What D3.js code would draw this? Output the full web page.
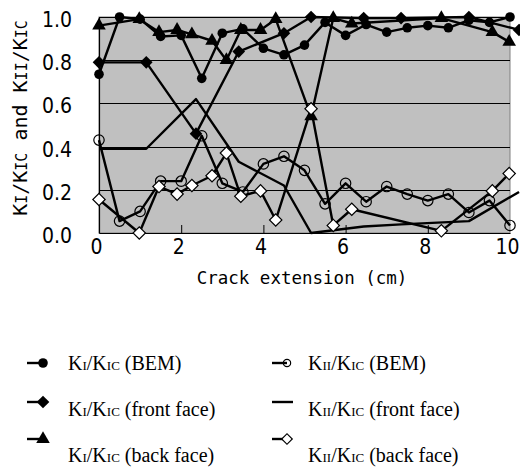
<!DOCTYPE html>
<html>
<head>
<meta charset="utf-8">
<script src="https://cdn.jsdelivr.net/npm/d3@7"></script>
<style>
  body { margin: 0; background: #fff; }
  svg { display: block; }
</style>
</head>
<body>
<div id="chart"></div>
<script>
// x positions of the three data sets (cm)
const bemX = [0, 0.5, 1, 1.5, 2, 2.5, 3, 3.5, 4, 4.5, 5, 5.5, 6, 6.5, 7, 7.5, 8, 8.5, 9, 9.5, 10];
const frontX = [0, 1.15, 2.36, 3.4, 4.5, 5.16, 6.44, 7.35, 9.0, 10.22];
const backX = [0, 0.98, 1.46, 1.9, 2.26, 2.75, 3.1, 3.45, 3.93, 4.3, 5.16, 5.7, 6.15, 8.33, 9.57, 9.98];

// series values
const kiBem = [0.735, 1.0, 0.99, 0.91, 0.915, 0.716, 0.925, 0.945, 0.855, 0.825, 0.87, 0.975, 0.915, 0.965, 0.93, 0.95, 0.96, 0.95, 0.985, 0.975, 1.0];
const kiiBem = [0.43, 0.055, 0.10, 0.24, 0.24, 0.45, 0.23, 0.19, 0.32, 0.355, 0.29, 0.135, 0.23, 0.145, 0.215, 0.18, 0.15, 0.18, 0.095, 0.15, 0.035];
const kiFront = [0.79, 0.79, 0.46, 0.84, 0.925, 1.0, 0.995, 0.995, 1.0, 0.94];
const kiiFront = [0.39, 0.39, 0.62, 0.33, 0.22, 0.0, 0.03, 0.04, 0.055, 0.19];
const kiBack = [0.96, 0.99, 0.93, 0.94, 0.92, 0.89, 0.80, 0.94, 0.94, 0.99, 0.54, 0.995, 0.97, 0.995, 0.93, 0.885];
const kiiBack = [0.155, 0.0, 0.215, 0.18, 0.22, 0.265, 0.37, 0.17, 0.195, 0.06, 0.575, 0.035, 0.11, 0.01, 0.195, 0.275];

const xTicks = [0, 2, 4, 6, 8, 10];
const yTicks = [0, 0.2, 0.4, 0.6, 0.8, 1.0];

const W = 520, H = 470;
const margin = { left: 99, right: 10, top: 17, bottom: 237 };

const svg = d3.select('#chart').append('svg')
  .attr('width', W)
  .attr('height', H);

const x = d3.scaleLinear().domain([0, 10]).range([margin.left, W - margin.right]);
const y = d3.scaleLinear().domain([0, 1]).range([H - margin.bottom, margin.top]);

// plot area
svg.append('rect')
  .attr('x', x(0)).attr('y', y(1))
  .attr('width', x(10) - x(0)).attr('height', y(0) - y(1))
  .attr('fill', '#c0c0c0')
  .attr('stroke', '#808080')
  .attr('stroke-width', 1);

// gridlines
svg.append('g')
  .selectAll('line')
  .data(yTicks.filter(d => d > 0))
  .join('line')
  .attr('x1', x(0)).attr('x2', x(10))
  .attr('y1', d => Math.round(y(d)) + 0.5).attr('y2', d => Math.round(y(d)) + 0.5)
  .attr('stroke', '#000').attr('stroke-width', 1);

// axes
const xAxis = svg.append('g')
  .attr('transform', `translate(0, ${y(0)})`)
  .call(d3.axisBottom(x).tickValues(xTicks).tickSizeInner(-8).tickSizeOuter(0).tickPadding(6).tickFormat(d3.format('d')));
xAxis.select('.domain').attr('stroke', '#000').attr('stroke-width', 1.2);
xAxis.selectAll('.tick line').attr('stroke', '#000');
xAxis.selectAll('.tick').filter(d => d === 0 || d === 10).select('line').remove();
xAxis.selectAll('.tick text')
  .attr('font-family', '"Liberation Sans Narrow", "DejaVu Sans Condensed", sans-serif')
  .attr('font-size', 21)
  .attr('fill', '#000')
  .attr('dx', -3);

const yAxis = svg.append('g')
  .attr('transform', `translate(${x(0)}, 0)`)
  .call(d3.axisLeft(y).tickValues(yTicks).tickSize(0).tickPadding(27).tickFormat(d3.format('.1f')));
yAxis.select('.domain').attr('stroke', '#000').attr('stroke-width', 1.2);
yAxis.selectAll('.tick text')
  .attr('font-family', '"Liberation Sans Narrow", "DejaVu Sans Condensed", sans-serif')
  .attr('font-size', 21)
  .attr('fill', '#000')
  .attr('dy', '0.45em');

// axis titles
svg.append('text')
  .attr('x', 302).attr('y', 284)
  .attr('text-anchor', 'middle')
  .attr('font-family', '"DejaVu Sans Mono", monospace')
  .attr('font-size', 17.5)
  .text('Crack extension (cm)');

const yTitle = svg.append('text')
  .attr('transform', 'translate(27, 118) rotate(-90)')
  .attr('text-anchor', 'middle')
  .attr('font-family', '"DejaVu Sans Mono", monospace')
  .attr('font-size', 20);
[['K', 20], ['I', 15], ['/K', 20], ['IC', 15], [' and K', 20], ['II', 15], ['/K', 20], ['IC', 15]]
  .forEach(([t, s]) => yTitle.append('tspan').attr('font-size', s).text(t));

// series
const line = d3.line().x(d => x(d[0])).y(d => y(d[1]));

const series = [
  { xs: bemX, ys: kiBem, marker: 'circle' },
  { xs: bemX, ys: kiiBem, marker: 'ocircle' },
  { xs: frontX, ys: kiFront, marker: 'diamond' },
  { xs: frontX, ys: kiiFront, marker: 'none' },
  { xs: backX, ys: kiBack, marker: 'triangle' },
  { xs: backX, ys: kiiBack, marker: 'odiamond' }
];

function drawMarker(g, type, cx, cy, scale = 1) {
  if (type === 'circle') {
    g.append('circle').attr('cx', cx).attr('cy', cy).attr('r', 4.8 * scale).attr('fill', '#000');
  } else if (type === 'ocircle') {
    g.append('circle').attr('cx', cx).attr('cy', cy).attr('r', 5.2 * scale)
      .attr('fill', 'none').attr('stroke', '#000').attr('stroke-width', 1.2);
  } else if (type === 'diamond') {
    g.append('path').attr('d', d3.symbol().type(d3.symbolSquare).size(80 * scale * scale)())
      .attr('transform', `translate(${cx}, ${cy}) rotate(45)`).attr('fill', '#000');
  } else if (type === 'odiamond') {
    g.append('path').attr('d', d3.symbol().type(d3.symbolSquare).size(76 * scale * scale)())
      .attr('transform', `translate(${cx}, ${cy}) rotate(45)`)
      .attr('fill', '#fff').attr('stroke', '#000').attr('stroke-width', 1.2);
  } else if (type === 'triangle') {
    g.append('path').attr('d', d3.symbol().type(d3.symbolTriangle).size(80 * scale * scale)())
      .attr('transform', `translate(${cx}, ${cy})`).attr('fill', '#000');
  }
}

series.forEach(s => {
  const pts = s.xs.map((v, i) => [v, s.ys[i]]);
  const g = svg.append('g');
  g.append('path')
    .datum(pts)
    .attr('d', line)
    .attr('fill', 'none')
    .attr('stroke', '#000')
    .attr('stroke-width', 2.4)
    .attr('stroke-linejoin', 'round');
  pts.forEach(p => drawMarker(g, s.marker, x(p[0]), y(p[1])));
});

// legend
const legendItems = [
  { marker: 'circle', label: 'BEM', sub: 'I', col: 0, row: 0 },
  { marker: 'ocircle', label: 'BEM', sub: 'II', col: 1, row: 0 },
  { marker: 'diamond', label: 'front face', sub: 'I', col: 0, row: 1 },
  { marker: 'none', label: 'front face', sub: 'II', col: 1, row: 1 },
  { marker: 'triangle', label: 'back face', sub: 'I', col: 0, row: 2 },
  { marker: 'odiamond', label: 'back face', sub: 'II', col: 1, row: 2 }
];
const rowMarkerY = [363, 402, 439];
const rowTextY = [370, 416, 462];
const colX = [27, 272];
const colTextX = [68, 308];

const legend = svg.append('g');
legendItems.forEach(d => {
  const lx = colX[d.col], ly = rowMarkerY[d.row];
  const mx = d.col === 0 ? lx + 16 : lx + 15;
  legend.append('line')
    .attr('x1', lx).attr('x2', d.marker === 'none' ? lx + 21 : mx)
    .attr('y1', ly).attr('y2', ly)
    .attr('stroke', '#000').attr('stroke-width', 2.4);
  const small = d.marker === 'ocircle' ? 0.7 : (d.marker === 'odiamond' ? 0.85 : 1);
  drawMarker(legend, d.marker, mx, ly, small);

  const t = legend.append('text')
    .attr('x', colTextX[d.col]).attr('y', rowTextY[d.row])
    .attr('font-family', '"Liberation Serif", "Times New Roman", serif')
    .attr('font-size', 20);
  t.append('tspan').text('K');
  t.append('tspan').attr('font-size', 13).text(d.sub);
  t.append('tspan').text('/K');
  t.append('tspan').attr('font-size', 13).text('IC');
  t.append('tspan').text(` (${d.label})`);
});
</script>
</body>
</html>
